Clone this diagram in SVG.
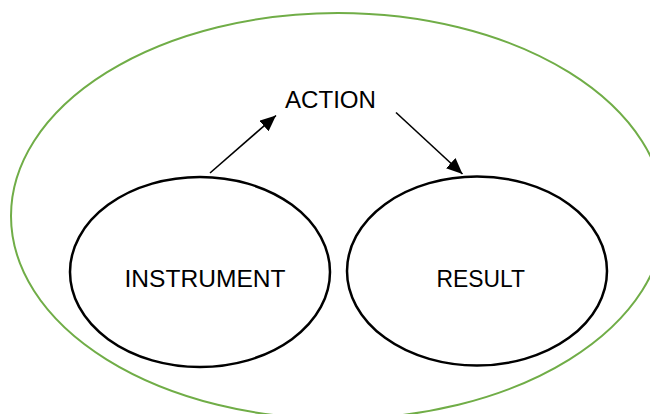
<svg xmlns="http://www.w3.org/2000/svg" width="650" height="414" viewBox="0 0 650 414">
<style>
.lbl{font-family:"Liberation Sans",Arial,sans-serif;font-size:24px;fill:#000}
.node{fill:#fff;stroke:#000;stroke-width:2.5}
.conn{stroke:#000;stroke-width:1.6;fill:none}
</style>
<defs>
<marker id="arr" markerUnits="userSpaceOnUse" markerWidth="18" markerHeight="14" refX="16" refY="7" orient="auto">
<path d="M0,0 L16,7 L0,14 Z" fill="#000"/>
</marker>
</defs>
<rect width="650" height="414" fill="#fff"/>
<g id="frame">
<ellipse cx="338" cy="216" rx="327" ry="203" fill="none" stroke="#70AD47" stroke-width="2"/>
</g>
<g id="action">
<text class="lbl" x="285" y="108" textLength="91" lengthAdjust="spacingAndGlyphs">ACTION</text>
</g>
<g id="instrument">
<ellipse class="node" cx="200" cy="272" rx="130" ry="95"/>
<text class="lbl" x="124.5" y="287" textLength="161" lengthAdjust="spacingAndGlyphs">INSTRUMENT</text>
</g>
<g id="result">
<ellipse class="node" cx="477" cy="271" rx="130" ry="94.5"/>
<text class="lbl" x="436.5" y="287" textLength="88.5" lengthAdjust="spacingAndGlyphs">RESULT</text>
</g>
<g id="connectors">
<line class="conn" x1="210" y1="173" x2="276" y2="115.5" marker-end="url(#arr)"/>
<line class="conn" x1="396" y1="112.5" x2="462.5" y2="174" marker-end="url(#arr)"/>
</g>
</svg>
